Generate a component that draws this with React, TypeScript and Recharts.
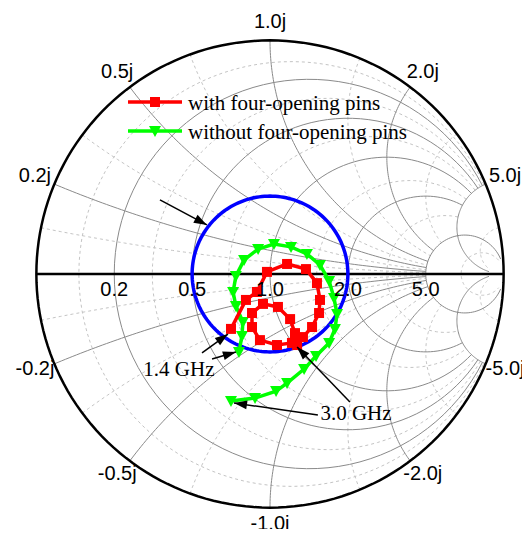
import { ScatterChart, Scatter, XAxis, YAxis, Legend } from 'recharts';

// Smith chart grid values (normalised r and x), and where each grid arc stops
const majorValues = [0.2, 0.5, 1, 2, 5];
const majorLimits = [5, 5, 5, 5, 30];
const minorValues = [0.1, 0.33, 0.7, 1.5, 3, 10];
const minorLimits = [5, 5, 5, 5, 5, 30];
const resistanceLabels = ['0.2', '0.5', '1.0', '2.0', '5.0'];
const reactanceLabels = ['0.2j', '0.5j', '1.0j', '2.0j', '5.0j'];
const vswr = 2;

const seriesNames = ['with four-opening pins', 'without four-opening pins'];

// reflection coefficient (re, im), 1.4 GHz -> 3.0 GHz
const withPins = [
  [-0.167, -0.235], [-0.103, -0.111], [-0.056, -0.077], [-0.013, 0.009],
  [0.073, 0.043], [0.154, 0.021], [0.201, -0.039], [0.214, -0.111],
  [0.21, -0.167], [0.18, -0.227], [0.141, -0.27], [0.094, -0.295],
  [0.03, -0.304], [-0.043, -0.283], [-0.077, -0.227], [-0.077, -0.167],
  [-0.03, -0.128], [0.034, -0.141], [0.086, -0.193], [0.107, -0.253],
  [0.116, -0.304],
];
const withoutPins = [
  [-0.133, -0.334], [-0.12, -0.265], [-0.116, -0.205], [-0.146, -0.137],
  [-0.158, -0.077], [-0.146, -0.009], [-0.111, 0.06], [-0.051, 0.107],
  [0.017, 0.128], [0.09, 0.116], [0.158, 0.086], [0.214, 0.039],
  [0.253, -0.03], [0.274, -0.103], [0.287, -0.171], [0.278, -0.235],
  [0.253, -0.295], [0.197, -0.351], [0.146, -0.407], [0.073, -0.467],
  [0.026, -0.501], [-0.064, -0.531], [-0.167, -0.544],
];

const annotations = [
  { text: '1.4 GHz', x: -0.39, y: -0.407 },
  { text: '3.0 GHz', x: 0.368, y: -0.595 },
];
const arrows = [
  { from: [-0.471, 0.317], to: [-0.27, 0.21] },
  { from: [-0.291, -0.338], to: [-0.18, -0.257] },
  { from: [-0.248, -0.364], to: [-0.146, -0.334] },
  { from: [0.342, -0.548], to: [0.116, -0.312] },
  { from: [0.205, -0.604], to: [-0.154, -0.552] },
];

const SANS = "'Liberation Sans', Arial, Helvetica, sans-serif";
const SERIF = "'Liberation Serif', 'Times New Roman', serif";
const N = 96;

function gamma(r: number, x: number) {
  const d = (r + 1) ** 2 + x * x;
  return { x: (r * r + x * x - 1) / d, y: (2 * x) / d };
}

function circle(cx: number, cy: number, rad: number) {
  const pts = [];
  for (let i = 0; i <= 180; i++) {
    const t = (2 * Math.PI * i) / 180;
    pts.push({ x: cx + rad * Math.cos(t), y: cy + rad * Math.sin(t) });
  }
  return pts;
}

function resistanceArc(r: number, lim: number) {
  const c = r / (1 + r);
  const a = 1 / (1 + r);
  const e = gamma(r, lim);
  const p0 = Math.atan2(e.y, e.x - c);
  const pts = [];
  for (let i = 0; i <= N; i++) {
    const p = p0 + ((2 * Math.PI - 2 * p0) * i) / N;
    pts.push({ x: c + a * Math.cos(p), y: a * Math.sin(p) });
  }
  return pts;
}

function reactanceArc(x: number, lim: number) {
  const R = 1 / Math.abs(x);
  const cy = Math.sign(x) * R;
  const a = gamma(0, x);
  const b = gamma(lim, x);
  const t0 = Math.atan2(a.y - cy, a.x - 1);
  let dt = Math.atan2(b.y - cy, b.x - 1) - t0;
  while (dt > Math.PI) dt -= 2 * Math.PI;
  while (dt < -Math.PI) dt += 2 * Math.PI;
  const pts = [];
  for (let i = 0; i <= N; i++) {
    const t = t0 + (dt * i) / N;
    pts.push({ x: 1 + R * Math.cos(t), y: cy + R * Math.sin(t) });
  }
  return pts;
}

function gridFor(values: number[], limits: number[]) {
  return values.flatMap((v, i) => [
    resistanceArc(v, limits[i]),
    reactanceArc(v, limits[i]),
    reactanceArc(-v, limits[i]),
  ]);
}

const minorGrid = gridFor(minorValues, minorLimits);
const majorGrid = gridFor(majorValues, majorLimits);
const outerCircle = circle(0, 0, 1);
const realAxis = [{ x: -1, y: 0 }, { x: 1, y: 0 }];
const vswrCircle = circle(0, 0, (vswr - 1) / (vswr + 1));

const redData = withPins.map(([x, y]) => ({ x, y }));
const greenData = withoutPins.map(([x, y]) => ({ x, y }));

const tickLabels = [
  ...majorValues.flatMap((v, i) =>
    [1, -1].map((s) => {
      const g = gamma(0, s * v);
      return { x: g.x * 1.09, y: g.y * 1.075 + 0.01, text: (s < 0 ? '-' : '') + reactanceLabels[i], font: SANS, size: 20 };
    })
  ),
  ...majorValues.map((v, i) => ({ x: gamma(v, 0).x, y: -0.064, text: resistanceLabels[i], font: SANS, size: 20 })),
  ...annotations.map((a) => ({ ...a, font: SERIF, size: 21 })),
];

const NoDot = () => <g />;

const RedSquare = (p: any) => (
  <rect x={p.cx - 5} y={p.cy - 5} width={10} height={10} fill="#ff0000" />
);

const GreenTriangle = (p: any) => (
  <polygon
    points={`${p.cx - 6},${p.cy - 5} ${p.cx + 6},${p.cy - 5} ${p.cx},${p.cy + 6}`}
    fill="#00ff00"
  />
);

const ArrowTip = (p: any) => {
  const d = p.payload;
  if (!d.tip) return <g />;
  const a = Math.atan2(-(d.y - d.fy), d.x - d.fx);
  const L = 13;
  const W = 4.5;
  const bx = p.cx - L * Math.cos(a);
  const by = p.cy - L * Math.sin(a);
  const px = -Math.sin(a) * W;
  const py = Math.cos(a) * W;
  return (
    <polygon
      points={`${p.cx},${p.cy} ${bx + px},${by + py} ${bx - px},${by - py}`}
      fill="#000"
    />
  );
};

const TextMark = (p: any) => (
  <text
    x={p.cx}
    y={p.cy}
    textAnchor="middle"
    dominantBaseline="central"
    fontFamily={p.payload.font}
    fontSize={p.payload.size}
    fill="#000"
  >
    {p.payload.text}
  </text>
);

const LegendBox = () => (
  <svg width={330} height={60} style={{ overflow: 'visible' }}>
    <line x1={2} y1={14} x2={56} y2={14} stroke="#ff0000" strokeWidth={3.5} />
    <rect x={24} y={9} width={10} height={10} fill="#ff0000" />
    <text x={62} y={22} fontFamily={SERIF} fontSize={21} fill="#000">
      {seriesNames[0]}
    </text>
    <line x1={2} y1={43} x2={56} y2={43} stroke="#00ff00" strokeWidth={3.5} />
    <polygon points="23,38 35,38 29,49" fill="#00ff00" />
    <text x={62} y={51} fontFamily={SERIF} fontSize={21} fill="#000">
      {seriesNames[1]}
    </text>
  </svg>
);

export default function App() {
  return (
    <div style={{ width: 514, height: 521 }}>
      <ScatterChart width={522} height={527} margin={{ top: 9, right: 3, bottom: 4, left: 5 }}>
        <XAxis type="number" dataKey="x" domain={[-1.1, 1.1]} hide />
        <YAxis type="number" dataKey="y" domain={[-1.1, 1.1]} hide />
        <Legend
          layout="vertical"
          align="center"
          verticalAlign="middle"
          content={<LegendBox />}
          wrapperStyle={{ top: 80, left: 118, width: 330, height: 60 }}
        />
        {minorGrid.map((pts, i) => (
          <Scatter
            key={`minor-${i}`}
            data={pts}
            shape={NoDot}
            line={{ stroke: '#c4c4c4', strokeWidth: 1, strokeDasharray: '3 3' }}
            legendType="none"
            isAnimationActive={false}
          />
        ))}
        {majorGrid.map((pts, i) => (
          <Scatter
            key={`major-${i}`}
            data={pts}
            shape={NoDot}
            line={{ stroke: '#8a8a8a', strokeWidth: 1 }}
            legendType="none"
            isAnimationActive={false}
          />
        ))}
        <Scatter data={outerCircle} shape={NoDot} line={{ stroke: '#000', strokeWidth: 2.5 }} legendType="none" isAnimationActive={false} />
        <Scatter data={realAxis} shape={NoDot} line={{ stroke: '#000', strokeWidth: 2.5 }} legendType="none" isAnimationActive={false} />
        <Scatter data={vswrCircle} shape={NoDot} line={{ stroke: '#0000ff', strokeWidth: 3.5 }} legendType="none" isAnimationActive={false} />
        <Scatter
          name={seriesNames[1]}
          data={greenData}
          shape={GreenTriangle}
          line={{ stroke: '#00ff00', strokeWidth: 3.5 }}
          isAnimationActive={false}
        />
        <Scatter
          name={seriesNames[0]}
          data={redData}
          shape={RedSquare}
          line={{ stroke: '#ff0000', strokeWidth: 3.5 }}
          isAnimationActive={false}
        />
        {arrows.map((a, i) => (
          <Scatter
            key={`arrow-${i}`}
            data={[
              { x: a.from[0], y: a.from[1] },
              { x: a.to[0], y: a.to[1], tip: true, fx: a.from[0], fy: a.from[1] },
            ]}
            shape={ArrowTip}
            line={{ stroke: '#000', strokeWidth: 1.5 }}
            legendType="none"
            isAnimationActive={false}
          />
        ))}
        <Scatter data={tickLabels} shape={TextMark} legendType="none" isAnimationActive={false} />
      </ScatterChart>
    </div>
  );
}
